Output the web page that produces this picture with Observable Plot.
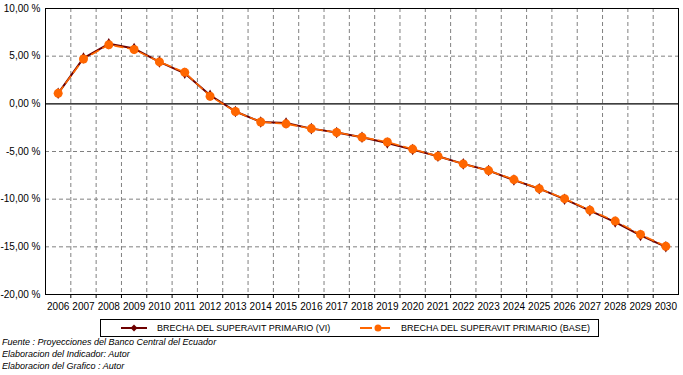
<!DOCTYPE html>
<html>
<head>
<meta charset="utf-8">
<script src="https://cdn.jsdelivr.net/npm/d3@7"></script>
<script src="https://cdn.jsdelivr.net/npm/@observablehq/plot@0.6"></script>
<style>
  body { margin: 0; background: #fff; font-family: "Liberation Sans", Arial, sans-serif; }
  #wrap { position: relative; width: 683px; height: 375px; overflow: hidden; }
  #chart { position: absolute; left: 0; top: 0; }
  #legend { position: absolute; left: 100px; top: 319px; width: 497px; height: 16px; border: 1px solid #000; font-size: 9px; }
  .item { position: absolute; top: 0; height: 16px; display: flex; align-items: center; }
  .item svg { margin-right: 8px; }
  #notes { position: absolute; left: 2px; top: 336px; font-size: 9px; font-style: italic; line-height: 12px; }
</style>
</head>
<body>
<div id="wrap">
  <div id="chart"></div>
  <div id="legend"></div>
  <div id="notes"></div>
</div>
<script>
const years = [2006,2007,2008,2009,2010,2011,2012,2013,2014,2015,2016,2017,2018,2019,2020,2021,2022,2023,2024,2025,2026,2027,2028,2029,2030];
const brechaVI = [1.1,4.8,6.3,5.8,4.4,3.2,0.9,-0.8,-1.9,-2.0,-2.6,-3.0,-3.5,-4.1,-4.8,-5.5,-6.3,-7.0,-8.0,-8.9,-10.0,-11.2,-12.4,-13.8,-15.0];
const brechaBase = [1.1,4.7,6.2,5.7,4.4,3.3,0.8,-0.8,-1.9,-2.1,-2.6,-3.0,-3.5,-4.0,-4.75,-5.5,-6.3,-7.0,-7.95,-8.9,-9.95,-11.15,-12.3,-13.7,-14.95];
const yTicks = [10,5,0,-5,-10,-15,-20];
const seriesNames = ["BRECHA DEL SUPERAVIT PRIMARIO (VI)", "BRECHA DEL SUPERAVIT PRIMARIO (BASE)"];
const notes = ["Fuente : Proyecciones del Banco Central del Ecuador", "Elaboracion del Indicador: Autor", "Elaboracion del Grafico : Autor"];

const colVI = "#6e0000";
const colBase = "#ff6600";

const dataVI = years.map((y, i) => ({year: y, value: brechaVI[i]}));
const dataBase = years.map((y, i) => ({year: y, value: brechaBase[i]}));
const bounds = years.slice(0, -1).map(y => y + 0.5);
const yFmt = d => d.toFixed(2).replace(".", ",") + " %";

const plot = Plot.plot({
  width: 683,
  height: 316,
  marginTop: 8,
  marginLeft: 45,
  marginRight: 5,
  marginBottom: 22,
  style: {fontFamily: "'Liberation Sans', Arial, sans-serif", fontSize: "10px", background: "#fff", color: "#000"},
  x: {type: "linear", domain: [2005.5, 2030.5]},
  y: {domain: [-20, 10]},
  marks: [
    Plot.gridY(yTicks.filter(d => d !== 0 && d !== 10 && d !== -20), {stroke: "#808080", strokeOpacity: 1, strokeDasharray: "4,3"}),
    Plot.gridX(bounds, {stroke: "#808080", strokeOpacity: 1, strokeDasharray: "4,3"}),
    Plot.ruleY([0], {stroke: "#000", strokeWidth: 1.2}),
    Plot.frame({stroke: "#000"}),
    Plot.axisY(yTicks, {tickFormat: yFmt, tickSize: 0, tickPadding: 5, label: null}),
    Plot.axisX(bounds, {tickFormat: () => "", tickSize: 4, label: null}),
    Plot.axisX(years, {tickFormat: d => String(d), tickSize: 0, tickPadding: 8, label: null}),
    Plot.line(dataVI, {x: "year", y: "value", stroke: colVI, strokeWidth: 2}),
    Plot.dot(dataVI, {x: "year", y: "value", symbol: "diamond", r: 3.5, fill: colVI, stroke: "none"}),
    Plot.line(dataBase, {x: "year", y: "value", stroke: colBase, strokeWidth: 1.6, strokeDasharray: "8,5"}),
    Plot.dot(dataBase, {x: "year", y: "value", symbol: "circle", r: 4.5, fill: colBase, stroke: "none"})
  ]
});
document.getElementById("chart").appendChild(plot);

const legend = document.getElementById("legend");
const swatches = [
  `<svg width="30" height="10"><line x1="2" y1="5" x2="28" y2="5" stroke="${colVI}" stroke-width="2"/><path d="M15,1.5 L18.5,5 L15,8.5 L11.5,5 Z" fill="${colVI}"/></svg>`,
  `<svg width="34" height="10"><line x1="1" y1="5" x2="33" y2="5" stroke="${colBase}" stroke-width="2" stroke-dasharray="12,6"/><circle cx="19" cy="5" r="3.5" fill="${colBase}"/></svg>`
];
const lefts = [18, 258];
seriesNames.forEach((name, i) => {
  const div = document.createElement("div");
  div.className = "item";
  div.style.left = lefts[i] + "px";
  div.innerHTML = swatches[i] + `<span>${name}</span>`;
  legend.appendChild(div);
});
document.getElementById("notes").innerHTML = notes.map(n => `<div>${n}</div>`).join("");
</script>
</body>
</html>
